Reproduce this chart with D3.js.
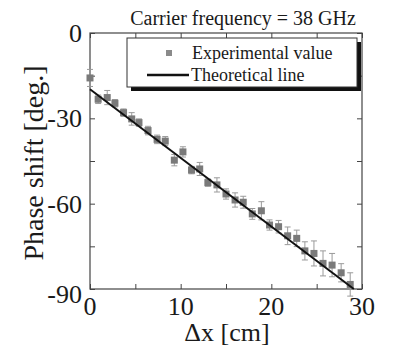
<!DOCTYPE html>
<html>
<head>
<meta charset="utf-8">
<script src="https://cdn.jsdelivr.net/npm/d3@7"></script>
</head>
<body style="margin:0">
<div id="chart"></div>
<script>
// data
var dx = [0, 0.9, 1.9, 2.75, 3.7, 4.6, 5.4, 6.4, 7.4, 8.3, 9.3, 10.25, 11.2, 12.1, 13.0, 14.0,
          15.0, 16.0, 16.9, 17.9, 18.9, 19.8, 20.8, 21.8, 22.8, 23.7, 24.7, 25.7, 26.7, 27.7, 28.7];
var phase = [-15.8, -23.3, -22.7, -24.7, -28.0, -30.2, -31.5, -34.3, -37.4, -38.0, -44.7, -41.8,
             -48.2, -47.8, -52.6, -53.4, -56.6, -58.7, -59.5, -63.6, -62.5, -67.5, -68.1, -71.3,
             -72.2, -76.6, -77.5, -81.0, -81.6, -84.3, -88.4];
var err = [3, 1.5, 2.5, 1.3, 1.3, 2.2, 1.3, 1.5, 1.5, 1.6, 2.0, 1.8, 1.3, 2.3, 1.3, 2.5,
           1.8, 2.5, 2.1, 1.9, 3.2, 1.8, 2.2, 3.1, 2.9, 3.2, 4.4, 4.4, 4.1, 3.2, 4.1];
var theoryX = [0, 29.1];
var theoryY = [-19.8, -90];
var xTicks = [0, 10, 20, 30];
var yTicks = [0, -30, -60, -90];

var serif = "'Liberation Serif'";

var margin = {top: 33, right: 34, bottom: 58, left: 90},
    width = 396 - margin.left - margin.right,
    height = 347 - margin.top - margin.bottom;

var root = d3.select("#chart")
  .append("svg")
    .attr("width", 396)
    .attr("height", 347)
    .style("font-family", serif);
var svg = root.append("g")
    .attr("transform", "translate(" + margin.left + "," + margin.top + ")");

var x = d3.scaleLinear().domain([0, 30]).range([0, width]);
var y = d3.scaleLinear().domain([-90, 0]).range([height, 0]);

// frame with inward ticks on all four sides
var axisCol = "#444";
function frameAxis(ax) {
  return function(g) {
    g.call(ax);
    g.select(".domain").remove();
    g.selectAll(".tick line").attr("stroke", axisCol);
  };
}
svg.append("g").attr("transform", "translate(0," + height + ")")
  .call(frameAxis(d3.axisTop(x).tickValues(d3.range(0, 31, 5)).tickSize(5).tickFormat("")));
svg.append("g")
  .call(frameAxis(d3.axisBottom(x).tickValues(d3.range(0, 31, 5)).tickSize(5).tickFormat("")));
svg.append("g")
  .call(frameAxis(d3.axisRight(y).tickValues(d3.range(-90, 1, 15)).tickSize(5).tickFormat("")));
svg.append("g").attr("transform", "translate(" + width + ",0)")
  .call(frameAxis(d3.axisLeft(y).tickValues(d3.range(-90, 1, 15)).tickSize(5).tickFormat("")));

svg.append("rect")
  .attr("width", width).attr("height", height)
  .attr("fill", "none").attr("stroke", axisCol).attr("stroke-width", 1.2);

// tick labels
svg.selectAll(".xlab").data(xTicks).enter().append("text")
  .attr("x", function(d) { return x(d); })
  .attr("y", height + 26)
  .attr("text-anchor", "middle")
  .style("fill", "#1a1a1a")
  .style("font-family", serif)
  .style("font-size", "26px")
  .text(function(d) { return d; });

svg.selectAll(".ylab").data(yTicks).enter().append("text")
  .attr("x", -8)
  .attr("y", function(d) { return y(d) + (d == -90 ? 14 : 9); })
  .attr("text-anchor", "end")
  .style("fill", "#1a1a1a")
  .style("font-family", serif)
  .style("font-size", "26px")
  .text(function(d) { return d; });

// axis titles
svg.append("text")
  .attr("x", width / 2 + 1)
  .attr("y", height + 52)
  .attr("text-anchor", "middle")
  .style("fill", "#1a1a1a")
  .style("font-family", serif)
  .style("font-size", "26px")
  .text("\u0394x [cm]");

svg.append("text")
  .attr("transform", "translate(-47," + (height / 2 + 2) + ") rotate(-90)")
  .attr("text-anchor", "middle")
  .style("fill", "#1a1a1a")
  .style("font-family", serif)
  .style("font-size", "28px")
  .text("Phase shift [deg.]");

// title
svg.append("text")
  .attr("x", 243 - margin.left)
  .attr("y", -8)
  .attr("text-anchor", "middle")
  .style("fill", "#1a1a1a")
  .style("font-family", serif)
  .style("font-size", "20px")
  .text("Carrier frequency = 38 GHz");

var data = dx.map(function(d, i) { return {x: d, y: phase[i], e: err[i]}; });

// error bars
var bars = svg.append("g").selectAll("g").data(data).enter().append("g")
  .attr("stroke", "#9a9a9a").attr("stroke-width", 1);
bars.append("line")
  .attr("x1", function(d) { return x(d.x); }).attr("x2", function(d) { return x(d.x); })
  .attr("y1", function(d) { return y(d.y - d.e); }).attr("y2", function(d) { return y(d.y + d.e); });
bars.append("line")
  .attr("x1", function(d) { return x(d.x) - 3; }).attr("x2", function(d) { return x(d.x) + 3; })
  .attr("y1", function(d) { return y(d.y + d.e); }).attr("y2", function(d) { return y(d.y + d.e); });
bars.append("line")
  .attr("x1", function(d) { return x(d.x) - 3; }).attr("x2", function(d) { return x(d.x) + 3; })
  .attr("y1", function(d) { return y(d.y - d.e); }).attr("y2", function(d) { return y(d.y - d.e); });

// points
svg.append("g").selectAll("rect").data(data).enter().append("rect")
  .attr("x", function(d) { return x(d.x) - 3.5; })
  .attr("y", function(d) { return y(d.y) - 3.5; })
  .attr("width", 7).attr("height", 7)
  .attr("fill", "#7a7a7a");

// theoretical line
svg.append("path")
  .datum(theoryX.map(function(d, i) { return [d, theoryY[i]]; }))
  .attr("d", d3.line().x(function(d) { return x(d[0]); }).y(function(d) { return y(d[1]); }))
  .attr("fill", "none").attr("stroke", "#111").attr("stroke-width", 2);

// legend with drop shadow
var lg = svg.append("g").attr("transform", "translate(" + (127 - margin.left) + "," + (38 - margin.top) + ")");
lg.append("rect").attr("x", 4).attr("y", 4).attr("width", 230).attr("height", 49).attr("fill", "#111");
lg.append("rect").attr("width", 230).attr("height", 49).attr("fill", "#fff").attr("stroke", "#333").attr("stroke-width", 1);
lg.append("rect").attr("x", 39).attr("y", 12).attr("width", 6).attr("height", 6).attr("fill", "#8a8a8a");
lg.append("text").attr("x", 65).attr("y", 21).style("fill", "#1a1a1a")
  .style("font-family", serif).style("font-size", "18px").text("Experimental value");
lg.append("line").attr("x1", 20).attr("x2", 62).attr("y1", 37).attr("y2", 37)
  .attr("stroke", "#111").attr("stroke-width", 2.5);
lg.append("text").attr("x", 64).attr("y", 43).style("fill", "#1a1a1a")
  .style("font-family", serif).style("font-size", "18px").text("Theoretical line");
</script>
</body>
</html>
